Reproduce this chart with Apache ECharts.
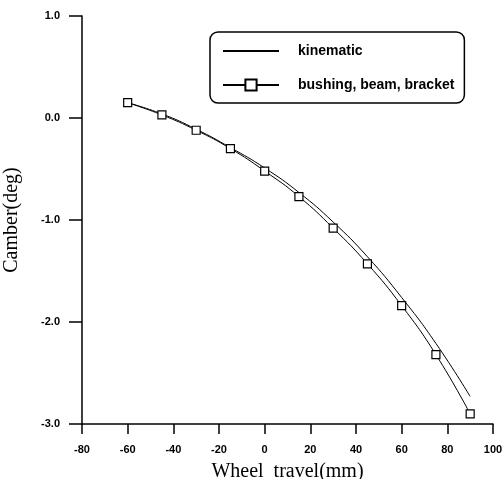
<!DOCTYPE html>
<html lang="en">
<head>
    <meta charset="UTF-8">
    <title>Camber vs wheel travel</title>
    <script src="https://cdn.jsdelivr.net/npm/echarts@6/dist/echarts.min.js"></script>
    <style>
        html, body { margin: 0; padding: 0; background: #fff; }
        #chart { width: 502px; height: 479px; }
    </style>
</head>
<body>
    <div id="chart"></div>
    <script>
        // wheel travel (mm)
        const travel = [-60, -45, -30, -15, 0, 15, 30, 45, 60, 75, 90];
        // camber (deg)
        const kinematic = [0.15, 0.04, -0.11, -0.29, -0.49, -0.73, -1.02, -1.36, -1.76, -2.21, -2.73];
        const bushing = [0.15, 0.03, -0.12, -0.30, -0.52, -0.77, -1.08, -1.43, -1.84, -2.32, -2.90];
        const yTicks = ['1.0', '0.0', '-1.0', '-2.0', '-3.0'];

        const pairs = ys => travel.map((x, i) => [x, ys[i]]);

        const chart = echarts.init(document.getElementById('chart'));

        const option = {
            animation: false,
            backgroundColor: '#fff',
            grid: { left: 82, right: 9, top: 16, bottom: 55, outerBoundsMode: 'none' },
            legend: {
                left: 210,
                top: 32,
                orient: 'vertical',
                padding: [12, 10, 11, 12],
                itemWidth: 56,
                itemHeight: 14,
                itemGap: 20,
                borderColor: '#000',
                borderWidth: 1.5,
                borderRadius: 8,
                textStyle: {
                    fontFamily: 'Liberation Sans',
                    fontWeight: 'bold',
                    fontSize: 14,
                    color: '#000',
                    padding: [0, 0, 0, 14]
                },
                data: [
                    // plain line only, hide the symbol
                    { name: 'kinematic', itemStyle: { opacity: 0 } },
                    { name: 'bushing, beam, bracket' }
                ]
            },
            xAxis: {
                type: 'value',
                min: -80,
                max: 100,
                interval: 20,
                name: 'Wheel  travel(mm)',
                nameLocation: 'middle',
                nameGap: 38,
                nameTextStyle: { fontFamily: 'Liberation Serif', fontSize: 20, color: '#000' },
                axisLine: { onZero: false, lineStyle: { color: '#000', width: 1.5 } },
                axisTick: { length: 10, lineStyle: { color: '#000', width: 1.5 } },
                axisLabel: {
                    margin: 20,
                    fontFamily: 'Liberation Sans',
                    fontWeight: 'bold',
                    fontSize: 11,
                    color: '#000'
                },
                splitLine: { show: false }
            },
            yAxis: {
                type: 'value',
                min: -3,
                max: 1,
                interval: 1,
                name: 'Camber(deg)',
                nameLocation: 'middle',
                nameGap: 60,
                nameTextStyle: { fontFamily: 'Liberation Serif', fontSize: 20, color: '#000' },
                axisLine: { show: true, onZero: false, lineStyle: { color: '#000', width: 1.5 } },
                axisTick: { show: true, length: 13, lineStyle: { color: '#000', width: 1.5 } },
                axisLabel: {
                    margin: 22,
                    fontFamily: 'Liberation Sans',
                    fontWeight: 'bold',
                    fontSize: 11,
                    color: '#000',
                    formatter: v => yTicks[Math.round(1 - v)]
                },
                splitLine: { show: false }
            },
            series: [
                {
                    name: 'kinematic',
                    type: 'line',
                    smooth: true,
                    symbol: 'none',
                    lineStyle: { color: '#000', width: 1 },
                    itemStyle: { color: '#000' },
                    data: pairs(kinematic)
                },
                {
                    name: 'bushing, beam, bracket',
                    type: 'line',
                    smooth: true,
                    symbol: 'rect',
                    symbolSize: 8,
                    lineStyle: { color: '#000', width: 1 },
                    itemStyle: { color: '#fff', borderColor: '#000', borderWidth: 1.2 },
                    data: pairs(bushing)
                }
            ]
        };

        chart.setOption(option);
    </script>
</body>
</html>
